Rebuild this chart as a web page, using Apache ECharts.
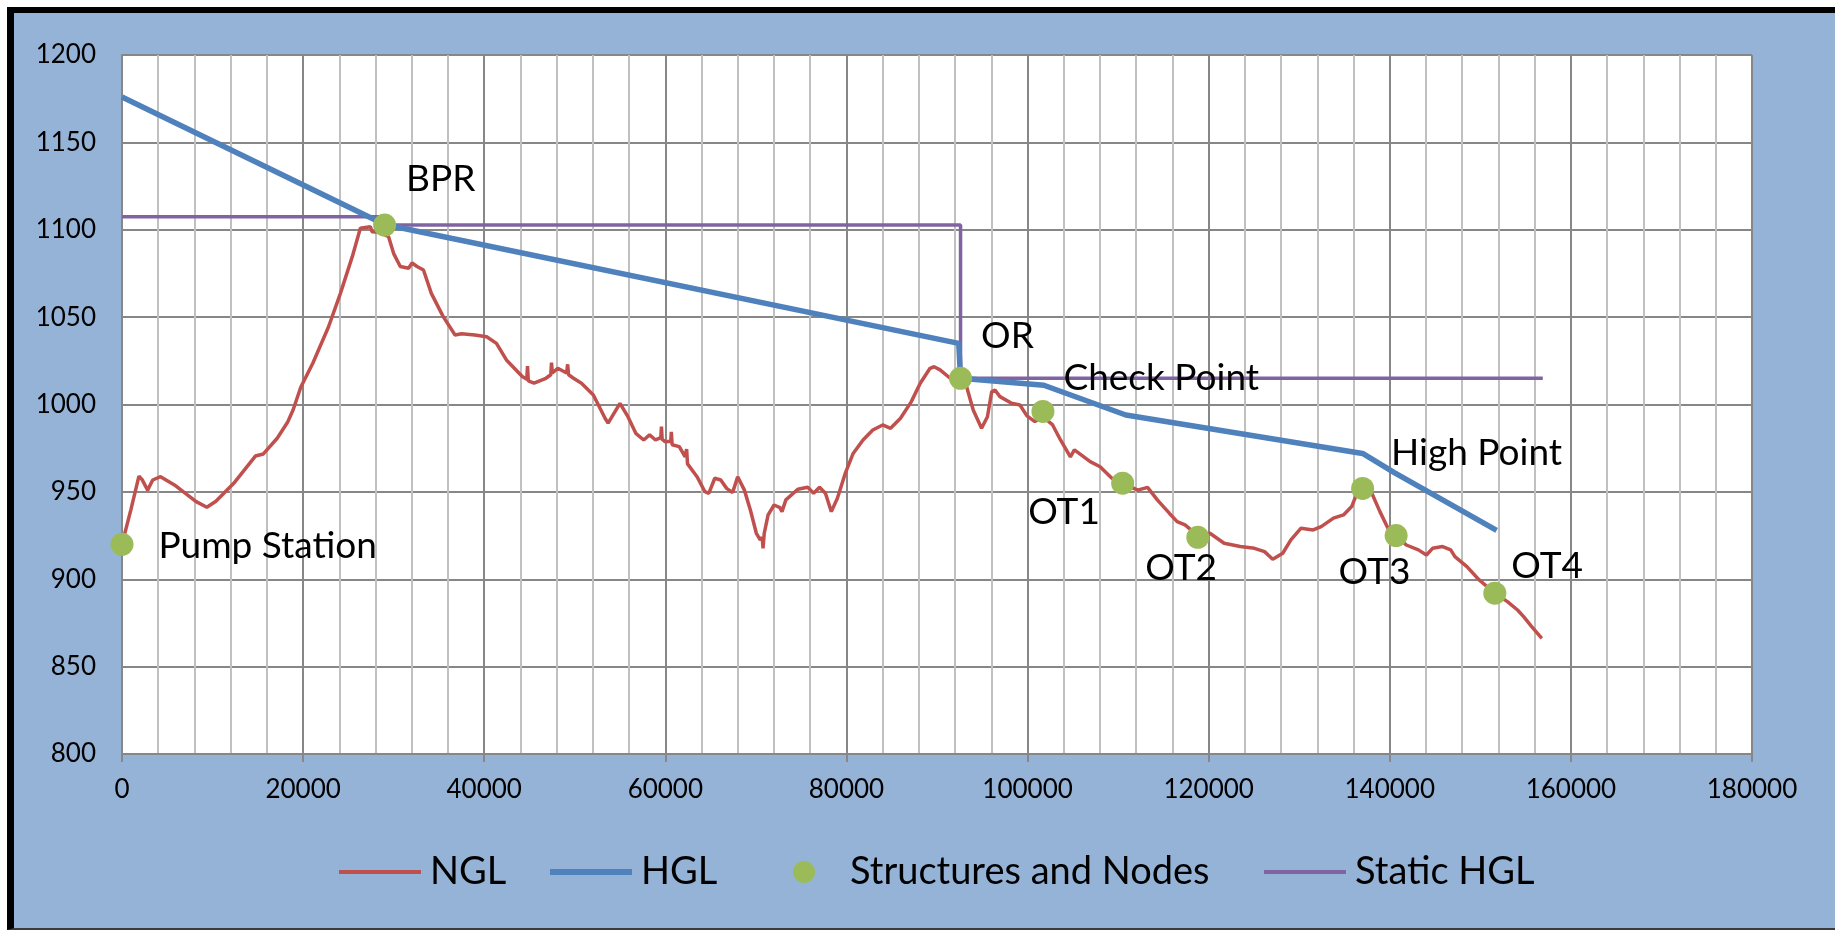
<!DOCTYPE html>
<html>
<head>
<meta charset="utf-8">
<title>NGL / HGL profile</title>
<script src="https://cdn.jsdelivr.net/npm/echarts@6.0.0/dist/echarts.min.js"></script>
<style>
    html, body { margin: 0; padding: 0; background: #fff; overflow: hidden; }
    #profile-chart {
        position: absolute;
        left: 7px;
        top: 7px;
        width: 1821px;
        height: 915px;
        background: #95B3D7;
        border-top: 6px solid #000;
        border-left: 7px solid #000;
        border-bottom: 2px solid #3c3c3c;
    }
</style>
</head>
<body>
<div id="profile-chart"></div>
<script>
// natural ground level along the route (distance m, elevation m)
const nglDist = [0, 990, 1870, 2220, 2830, 3390, 4260, 5790, 8190, 9370, 10370, 12340, 14730, 15610, 17140, 18300, 18900, 19750, 21070, 22810, 24120, 25430, 26320, 27430, 27610, 28500, 29440, 29990, 30730, 31650, 32030, 32580, 33290, 34160, 35470, 36780, 37500, 38960, 40270, 41350, 42450, 44200, 44700, 44780, 44870, 45500, 46810, 47350, 47430, 47520, 48120, 49100, 49210, 49320, 49860, 50740, 52050, 53360, 53680, 54990, 55870, 56740, 57610, 58260, 58920, 59500, 59570, 59650, 60000, 60600, 60660, 60750, 61540, 62190, 62350, 62450, 62630, 63500, 64370, 64800, 65460, 66120, 66770, 67430, 67990, 68730, 69390, 70050, 70480, 70700, 70790, 70920, 71350, 72010, 72660, 72880, 73310, 74630, 75720, 76370, 77030, 77680, 78330, 79000, 79870, 80740, 81830, 82910, 84000, 84870, 85970, 87150, 88150, 89230, 89680, 90340, 91620, 92600, 93280, 94000, 94920, 95570, 96040, 96400, 96950, 98240, 99160, 99930, 100810, 101700, 102770, 103640, 104730, 105170, 106920, 108010, 109310, 110500, 112160, 113250, 114330, 115650, 116520, 117390, 118800, 120140, 121710, 123490, 125060, 126170, 127070, 128180, 129080, 130200, 131540, 132430, 133780, 134890, 135790, 136230, 137000, 138020, 138910, 139800, 140700, 141820, 143160, 144050, 144720, 145840, 146730, 147190, 148520, 149870, 151600, 152990, 154110, 154780, 155670, 156790];
const nglElev = [920, 940, 959, 957, 951, 956.8, 958.7, 954, 944.4, 941.2, 944.6, 954.9, 970.5, 971.7, 980.7, 990, 997, 1010, 1023.6, 1044.5, 1063.6, 1084.6, 1100.8, 1101.7, 1098.9, 1098.5, 1096, 1086.5, 1079, 1078, 1081, 1079, 1077, 1063.6, 1050.3, 1039.8, 1040.5, 1039.8, 1038.8, 1035, 1025.5, 1016, 1014.5, 1022, 1013.5, 1012.2, 1015, 1017, 1024, 1018, 1020.7, 1018, 1023, 1017, 1015, 1012.2, 1005.4, 992, 989.3, 1000.7, 993, 983.5, 979.7, 982.6, 979.7, 981, 987.3, 980, 978.7, 979, 984.4, 977, 975.9, 970, 974.5, 966, 966.4, 958.7, 950.1, 949.2, 957.8, 956.8, 952, 949.6, 958.7, 951, 939.6, 926.3, 922.5, 924, 917.7, 926.3, 936.8, 942.5, 941, 938.7, 945.4, 951.5, 952.6, 949.2, 952.6, 949.2, 938.7, 946.3, 960.6, 972, 979.7, 985.4, 988.3, 986.4, 992.1, 1001.5, 1012.2, 1020.7, 1021.6, 1019.8, 1014.3, 1012, 1010, 996.9, 986.4, 993, 1007.3, 1008.3, 1004.5, 1000.7, 999.7, 993.5, 990.2, 993, 988.3, 979.7, 970, 974, 967.3, 964.4, 957.8, 955, 951, 952.6, 945.4, 937.8, 933, 931.1, 925, 926.3, 920.6, 918.7, 917.7, 915.8, 911.4, 914.9, 922.5, 929.2, 928.2, 930.1, 935, 936.8, 941.6, 947.3, 952, 949.2, 938.7, 929.2, 925, 919.6, 916.8, 913.9, 917.7, 918.7, 916.8, 912.9, 907.2, 899.6, 892, 887.2, 882.4, 878.6, 872.9, 866.2];

// hydraulic grade line
const hglDist = [0, 29000, 92400, 92600, 101800, 110850, 137000, 140500, 151800];
const hglElev = [1176, 1103, 1035, 1015, 1011, 994, 972, 961, 928];

// static hydraulic grade line
const staticDist = [0, 29000, 29000, 92600, 92600, 156900];
const staticElev = [1107.5, 1107.5, 1102.7, 1102.7, 1015, 1015];

// structures and nodes
const nodeNames = ['Pump Station', 'BPR', 'OR', 'Check Point', 'OT1', 'OT2', 'High Point', 'OT3', 'OT4'];
const nodeDist = [0, 29000, 92600, 101700, 110500, 118800, 137000, 140700, 151600];
const nodeElev = [920, 1102.7, 1015, 996, 955, 924, 952, 925, 892];

const xTicks = [0, 180000, 20000];   // min, max, step
const yTicks = [800, 1200, 50];

// where each node label sits relative to its dot
const labelOffset = {
    'Pump Station': [25, 2],
    'BPR': [10, -46],
    'OR': [9, -42],
    'Check Point': [9, -33],
    'OT1': [-106, 29],
    'OT2': [-64, 31],
    'High Point': [17, -35],
    'OT3': [-69, 36],
    'OT4': [5, -27]
};

// legend entries, each placed on its own
const legendItems = [
    { name: 'NGL', icon: bar(4), left: 325, pad: 4 },
    { name: 'HGL', icon: bar(6), left: 536, pad: 4 },
    { name: 'Structures and Nodes', icon: 'circle', left: 779, pad: 0 },
    { name: 'Static HGL', icon: bar(4), left: 1250, pad: 4 }
];

function pairs(xs, ys) {
    return xs.map((x, i) => [x, ys[i]]);
}

// flat bar used as the legend mark of a line series
function bar(h) {
    return 'path://M0,0H82V' + h + 'H0Z';
}

const font = 'Lato, "Open Sans", sans-serif';
const major = '#878787';
const minor = '#c0c0c0';

const chart = echarts.init(document.getElementById('profile-chart'));

const option = {
    animation: false,
    grid: {
        left: 108,
        right: 83,
        top: 42,
        bottom: 174,
        show: true,
        backgroundColor: '#fff',
        borderWidth: 0,
        outerBoundsMode: 'none'
    },
    legend: legendItems.map(item => ({
        left: item.left,
        top: 839,
        padding: 0,
        itemWidth: 82,
        itemHeight: 22,
        symbolKeepAspect: true,
        textStyle: { fontFamily: font, fontSize: 38, color: '#000', lineHeight: 40, padding: [0, 0, 0, item.pad] },
        data: [{ name: item.name, icon: item.icon }]
    })),
    xAxis: {
        type: 'value',
        min: xTicks[0],
        max: xTicks[1],
        interval: xTicks[2],
        axisLine: { show: true, lineStyle: { color: major, width: 2 } },
        axisTick: { show: true, length: 8, lineStyle: { color: major, width: 2 } },
        axisLabel: { fontFamily: font, fontSize: 26, color: '#000', margin: 23, formatter: v => String(v) },
        splitLine: { show: true, lineStyle: { color: major, width: 2 } },
        minorTick: { show: false, splitNumber: 5 },
        minorSplitLine: { show: true, lineStyle: { color: minor, width: 2 } }
    },
    yAxis: {
        type: 'value',
        min: yTicks[0],
        max: yTicks[1],
        interval: yTicks[2],
        axisLine: { show: true, lineStyle: { color: major, width: 2 } },
        axisTick: { show: false },
        axisLabel: { fontFamily: font, fontSize: 26, color: '#000', margin: 26, formatter: v => String(v) },
        splitLine: { show: true, lineStyle: { color: major, width: 2 } }
    },
    series: [
        {
            name: 'NGL',
            type: 'line',
            data: pairs(nglDist, nglElev),
            symbol: 'none',
            lineStyle: { color: '#C0504D', width: 3.5 },
            itemStyle: { color: '#C0504D' },
            z: 2
        },
        {
            name: 'HGL',
            type: 'line',
            data: pairs(hglDist, hglElev),
            symbol: 'none',
            lineStyle: { color: '#4F81BD', width: 5.5 },
            itemStyle: { color: '#4F81BD' },
            z: 4
        },
        {
            name: 'Structures and Nodes',
            type: 'scatter',
            symbolSize: 23,
            itemStyle: { color: '#9BBB59', opacity: 1 },
            data: nodeNames.map((n, i) => ({
                name: n,
                value: [nodeDist[i], nodeElev[i]],
                label: { offset: labelOffset[n] }
            })),
            label: {
                show: true,
                position: 'right',
                distance: 0,
                formatter: '{b}',
                fontFamily: font,
                fontSize: 37,
                color: '#000'
            },
            z: 5
        },
        {
            name: 'Static HGL',
            type: 'line',
            data: pairs(staticDist, staticElev),
            symbol: 'none',
            lineStyle: { color: '#8064A2', width: 3.5 },
            itemStyle: { color: '#8064A2' },
            z: 3
        }
    ]
};

chart.setOption(option);

window.addEventListener('resize', () => chart.resize(), { passive: true });
</script>
</body>
</html>
